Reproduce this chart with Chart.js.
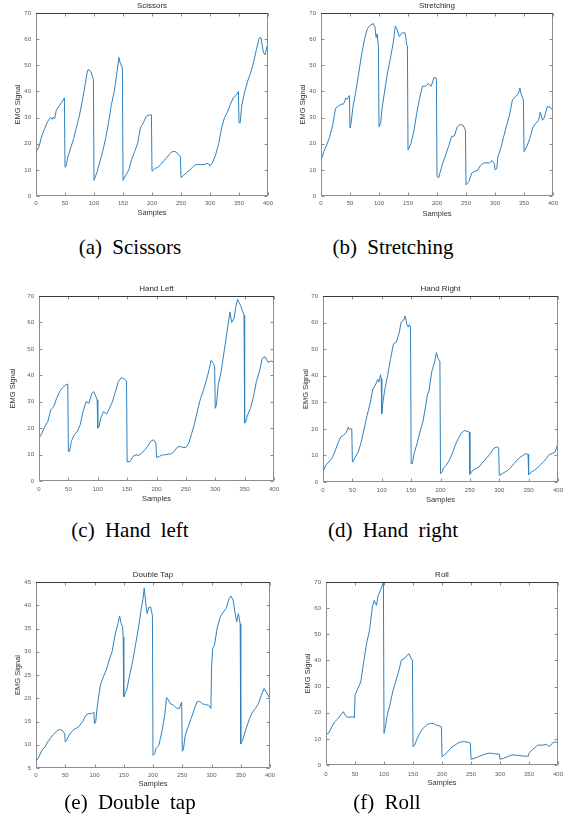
<!DOCTYPE html>
<html>
<head>
<meta charset="utf-8">
<script src="https://cdn.jsdelivr.net/npm/chart.js@4/dist/chart.umd.min.js"></script>
<style>
  html, body { margin: 0; padding: 0; background: #fff; }
  body { width: 571px; height: 831px; position: relative; overflow: hidden; }
  .panel { position: absolute; overflow: hidden; }
  .panel canvas { display: block; }
  .cap {
    position: absolute;
    font-family: "Liberation Serif", "Times New Roman", serif;
    font-size: 21px;
    word-spacing: 5px;
    color: #000;
    white-space: pre;
    transform: translate(-50%, -50%);
    line-height: 1;
  }
</style>
</head>
<body>

<div class="panel" style="left:0;top:0;width:285px;height:222px"><canvas id="p0" width="285" height="222"></canvas></div>
<div class="panel" style="left:285px;top:0;width:286px;height:222px"><canvas id="p1" width="286" height="222"></canvas></div>
<div class="panel" style="left:0;top:283px;width:280px;height:222px"><canvas id="p2" width="285" height="222"></canvas></div>
<div class="panel" style="left:285px;top:283px;width:286px;height:222px"><canvas id="p3" width="286" height="222"></canvas></div>
<div class="panel" style="left:0;top:569px;width:285px;height:222px"><canvas id="p4" width="285" height="222"></canvas></div>
<div class="panel" style="left:285px;top:569px;width:286px;height:222px"><canvas id="p5" width="286" height="222"></canvas></div>

<div class="cap" style="left:130px;top:247px">(a) Scissors</div>
<div class="cap" style="left:393px;top:247px">(b) Stretching</div>
<div class="cap" style="left:130px;top:530px">(c) Hand left</div>
<div class="cap" style="left:393px;top:530px">(d) Hand right</div>
<div class="cap" style="left:130px;top:802px">(e) Double tap</div>
<div class="cap" style="left:387px;top:802px">(f) Roll</div>

<script>
// EMG signal traces, [sample, amplitude]
const scissors = [
  [0,17],[5,18.7],[10,23],[15,25.8],[20,28.5],[25,30],[28,29.3],[30,30.2],[32,29.5],[35,32.8],[40,34.5],[45,36],[49,37.5],
  [50,11],[52,11.5],[55,15],[60,18.5],[65,22],[70,26.5],[75,31],[80,36.5],[85,43],[88,47],[90,48.5],[95,47.5],[99,44.5],
  [100,6],[105,9],[110,13],[115,17],[120,22],[125,28],[130,35],[135,40],[140,48],[143,53],[145,51],[149,49],
  [150,6],[155,8],[160,10],[165,14],[170,17],[175,20],[180,26],[185,28],[190,30.5],[195,31],[199,31],
  [200,9.5],[205,10.5],[210,11],[215,12],[220,13.5],[225,14.5],[230,16],[235,17],[240,17],[245,16],[249,15],
  [250,7],[255,8],[260,9],[265,10],[270,11],[275,12],[280,12],[285,12],[290,12],[295,12.5],[299,12],
  [300,11.5],[305,13],[310,16],[315,20],[320,26],[325,30],[330,32],[335,35],[340,37.5],[345,38.5],[349,40],
  [350,28],[352,28],[355,35],[360,40],[365,44],[370,47],[375,51],[380,56],[385,60.5],[388,60.5],[392,55],[395,54],[398,57],[400,58]
];

const stretching = [
  [0,13.6],[5,17],[10,19.6],[15,22.7],[20,27],[25,33.5],[30,34.4],[35,35.2],[38,35],[40,35.7],[43,37.5],[45,37],[49,38.4],
  [50,26],[52,28],[55,34],[60,40],[65,47],[70,54],[75,60],[80,64],[85,65.3],[90,66],[93,64.7],[95,60.6],[97,62],[99,57],
  [100,26.5],[103,28],[105,33],[110,40.5],[115,47.5],[120,53],[125,59.3],[128,65],[130,64.4],[135,61],[140,62.4],[145,62.4],[148,57.7],[149,57.5],
  [150,17.7],[155,20],[160,24.6],[165,31.6],[170,37.4],[175,42],[180,42],[185,43],[190,42],[195,45.4],[199,45],
  [200,7.5],[203,7],[205,8.8],[210,12.6],[215,15.8],[220,19],[225,22.7],[230,23],[235,26.5],[240,27.4],[245,27],[249,25.3],
  [250,4.3],[255,5.6],[260,8.8],[265,9.5],[270,9.8],[275,11.7],[280,12.6],[285,12.7],[290,12.6],[295,13.6],[299,12.3],
  [300,10],[303,10.4],[305,15],[310,18.3],[315,22.7],[320,27],[325,31],[330,36.7],[335,38],[340,39],[343,41.3],[345,39],[349,36.7],
  [350,17],[355,19],[360,22],[365,26],[370,27.8],[375,28.8],[378,32],[382,29],[385,30],[390,34.2],[395,34],[400,32.7]
];

const handLeft = [
  [0,16.2],[5,18.1],[10,20.6],[15,22.5],[20,26.9],[25,28.2],[30,31.3],[35,33.8],[40,35.3],[45,36.3],[49,36.7],
  [50,11.2],[52,11.2],[55,15],[60,17.5],[65,18.7],[70,21.2],[75,26.3],[80,30],[85,29.4],[90,33.2],[93,33.8],[97,31.9],[99,30.7],
  [100,20],[102,20.6],[105,23.8],[110,26.3],[115,25.3],[120,27.5],[125,30],[130,33.8],[135,37.6],[140,39.1],[145,38.6],[149,37.8],
  [150,7.2],[155,7.4],[160,9.3],[165,9.9],[170,9.7],[175,10.6],[180,11.8],[185,13.1],[190,15],[195,15.6],[199,14.3],
  [200,8.9],[205,9.3],[210,9.9],[215,9.9],[220,10.2],[225,10.2],[230,11.2],[235,12.7],[240,13.1],[245,12.7],[250,12.7],
  [255,14.3],[260,18.1],[265,21.9],[270,26.9],[275,31.3],[280,34.4],[285,38.2],[290,42.6],[293,45.7],[297,44.5],[299,43.2],
  [300,27.5],[302,28.8],[305,36.3],[310,41.3],[315,48.9],[320,56.4],[325,64],[328,60],[332,61.5],[335,65.9],[338,68.8],[340,67.7],[343,66.5],[346,64.6],[349,62.7],
  [350,21.9],[352,22.5],[355,25],[360,27.5],[365,31.9],[370,37.6],[375,41.3],[380,46.4],[385,47],[390,44.9],[395,45.4],[400,44.9]
];

const handRight = [
  [0,3.8],[5,6.5],[10,7.5],[15,8.8],[20,11.3],[25,14.4],[30,16.9],[35,17.6],[40,18.8],[43,20.7],[45,19.8],[49,20],
  [50,7.5],[52,8.2],[55,9.4],[60,11.3],[65,15],[70,20],[75,25],[80,29.5],[85,35],[90,36.9],[93,38.6],[95,37.6],[98,40.4],[99,38.9],
  [100,25.7],[102,30.1],[105,34.5],[110,40.1],[115,46.4],[120,52],[125,52.7],[130,56.5],[133,60.2],[137,60.8],[140,62.5],[143,59],[145,58.3],[147,59.2],[149,58.3],
  [150,6.9],[152,6.9],[155,10.7],[160,14.4],[165,18.8],[170,22.6],[175,28.9],[178,33.2],[180,33.9],[185,41.4],[190,45.2],[193,48.7],[196,46.4],[199,45.4],
  [200,3.1],[203,3.8],[205,5.3],[210,6.3],[215,8.2],[220,10.7],[225,13.8],[230,16.3],[235,18.2],[240,19.4],[245,19.1],[249,18.8],
  [250,2.9],[253,3.8],[255,4.4],[260,5],[265,5.6],[270,6.9],[275,8.2],[280,9.4],[285,10.7],[290,12.5],[295,13.2],[299,12.9],
  [300,2.5],[305,3.1],[310,3.8],[315,4.4],[320,5.6],[325,6.9],[330,8.2],[335,9.2],[340,10],[345,10.7],[349,10.4],
  [350,2.8],[355,3.8],[360,4.4],[365,5.3],[370,6.5],[375,7.5],[380,8.8],[385,10.4],[390,10.7],[395,11.3],[400,14.4]
];

const doubleTap = [
  [0,6.4],[5,7.4],[10,8.8],[15,9.5],[20,10.6],[25,11.5],[30,12.2],[35,12.9],[40,13.3],[45,13.1],[49,12.4],
  [50,10.6],[52,10.9],[55,11.7],[60,12.7],[65,13.3],[70,13.6],[75,14.2],[80,15],[85,16.3],[90,16.7],[95,16.7],[99,17],
  [100,14.5],[102,14.9],[105,18.5],[110,22.8],[115,24.6],[120,26],[125,28.2],[130,30],[135,33.5],[140,36],[143,37.7],[145,36.3],[148,35.4],[149,33.2],
  [150,20.3],[153,21.3],[155,21.7],[160,24.9],[165,27.8],[170,31.4],[175,35],[180,39.3],[183,41.4],[185,43.7],[188,40],[190,38.2],[193,39.6],[196,39.6],[199,37.8],
  [200,7.7],[203,8.1],[205,9.2],[210,9.9],[215,12.7],[220,16.3],[223,20.1],[225,19.9],[230,18.8],[235,18.5],[240,17.9],[245,17.8],[249,19.2],
  [250,8.6],[252,9],[255,12],[260,13.8],[265,15.6],[270,17.4],[275,19.2],[280,19.3],[285,18.8],[290,18.6],[295,18.5],[299,17.8],
  [300,26.4],[302,30.7],[305,31.4],[310,35.3],[315,37.5],[320,38.5],[325,39.3],[330,41.4],[333,42],[337,41.1],[340,38.5],[343,36.4],[346,38.2],[349,36],
  [350,10.2],[353,10.9],[355,11.7],[360,13.8],[365,15.6],[370,17],[375,17.8],[380,18.8],[385,20.6],[390,22.1],[395,21],[400,19.9]
];

const roll = [
  [0,11.7],[5,12.3],[10,14.6],[15,16.5],[20,17.6],[25,19.1],[30,20.4],[33,19.1],[35,18.5],[40,18.2],[45,18.5],[49,18.1],
  [50,26.7],[55,29.3],[60,31.8],[65,39.5],[70,46.5],[75,51.5],[80,60.5],[83,63],[87,61.1],[90,64.9],[95,67.5],[99,70],
  [100,12.1],[103,15.3],[105,18.5],[110,22.9],[115,28],[120,31.8],[125,35.6],[130,40.1],[135,40.7],[140,42],[143,42.6],[146,41],[149,40.1],
  [150,7],[153,7.6],[155,8.9],[160,11.5],[165,13.4],[170,14.6],[175,15.5],[180,15.9],[185,15.9],[190,15.3],[195,15],[199,14.6],
  [200,3.2],[205,4.1],[210,5.1],[215,6.4],[220,7.3],[225,8],[230,8.7],[235,8.9],[240,8.9],[245,8.7],[249,8.3],
  [250,2.2],[255,2.5],[260,2.9],[265,3.4],[270,3.8],[275,4.2],[280,4.5],[285,4.5],[290,4.3],[295,4.2],[299,4.1],
  [300,2.2],[305,2.5],[310,2.9],[315,3.4],[320,3.8],[325,3.8],[330,3.7],[335,3.6],[340,3.4],[345,3.4],[349,3.4],
  [350,4.5],[355,5.7],[360,6.6],[365,7.6],[370,7.6],[375,7.6],[380,7.9],[385,7],[390,8.3],[395,8.9],[400,8.3]
];

// Tick values
const sampleTicks = [0, 50, 100, 150, 200, 250, 300, 350, 400];
const emgTicks70 = [0, 10, 20, 30, 40, 50, 60, 70];
const emgTicks45 = [5, 10, 15, 20, 25, 30, 35, 40, 45];

const titles = ['Scissors', 'Stretching', 'Hand Left', 'Hand Right', 'Double Tap', 'Roll'];
const traces = [scissors, stretching, handLeft, handRight, doubleTap, roll];

// Per-panel geometry (canvas-local pixels)
const layouts = [
  { l: 36, r: 268, t: 13, b: 196, tickY: 203, labelY: 213, labelX: 18, yRange: [0, 70], yTicks: emgTicks70 },
  { l: 36, r: 268, t: 13, b: 196, tickY: 203, labelY: 214, labelX: 18, yRange: [0, 70], yTicks: emgTicks70 },
  { l: 39, r: 274, t: 13, b: 198, tickY: 206, labelY: 216, labelX: 12.5, yRange: [0, 70], yTicks: emgTicks70 },
  { l: 38, r: 273, t: 13, b: 199, tickY: 207, labelY: 217, labelX: 21, yRange: [0, 70], yTicks: emgTicks70 },
  { l: 36, r: 270, t: 13, b: 199, tickY: 206, labelY: 215, labelX: 18, yRange: [5, 45], yTicks: emgTicks45 },
  { l: 41, r: 273, t: 13, b: 196, tickY: 205, labelY: 214, labelX: 23, yRange: [0, 70], yTicks: emgTicks70 }
];

const FONT = '"Liberation Sans", Arial, Helvetica, sans-serif';
const TICK_SIZE = 6, LABEL_SIZE = 7.5, TITLE_SIZE = 8;

// Axes box with inward tick marks on all four sides
const axesBox = {
  id: 'axesBox',
  afterDraw(chart) {
    const { ctx, chartArea: a, scales: { x, y } } = chart;
    ctx.save();
    ctx.lineWidth = 1;
    ctx.strokeStyle = '#8c8c8c';
    const seg = (x1, y1, x2, y2) => { ctx.beginPath(); ctx.moveTo(x1, y1); ctx.lineTo(x2, y2); ctx.stroke(); };
    const L = Math.round(a.left) + 0.5, R = Math.round(a.right) - 0.5;
    const T = Math.round(a.top) + 0.5, B = Math.round(a.bottom) - 0.5;
    x.ticks.forEach(t => {
      const px = Math.round(x.getPixelForValue(t.value)) + 0.5;
      seg(px, B, px, B - 3);
      seg(px, T, px, T + 3);
    });
    y.ticks.forEach(t => {
      const py = Math.round(y.getPixelForValue(t.value)) + 0.5;
      seg(L, py, L + 3, py);
      seg(R, py, R - 3, py);
    });
    seg(L, T, L, B);
    seg(L, B, R, B);
    seg(R, T, R, B);
    ctx.strokeStyle = '#3a3a3a';
    seg(L - 0.5, T, R + 0.5, T);
    ctx.restore();
  }
};

// Panel heading centred over the axes box
const panelTitle = {
  id: 'panelTitle',
  afterDraw(chart, args, opts) {
    const { ctx, chartArea: a } = chart;
    ctx.save();
    ctx.font = TITLE_SIZE + 'px ' + FONT;
    ctx.fillStyle = '#2b2b2b';
    ctx.textAlign = 'center';
    ctx.textBaseline = 'middle';
    ctx.fillText(opts.text, (a.left + a.right) / 2, opts.y);
    ctx.restore();
  }
};

traces.forEach((trace, i) => {
  const g = layouts[i];
  const canvas = document.getElementById('p' + i);
  const W = canvas.width, H = canvas.height;
  new Chart(canvas, {
    type: 'line',
    data: {
      datasets: [{
        data: trace.map(([s, v]) => ({ x: s, y: v })),
        borderColor: '#2f80bd',
        borderWidth: 1,
        pointRadius: 0,
        tension: 0,
        fill: false
      }]
    },
    options: {
      responsive: false,
      animation: false,
      devicePixelRatio: 1,
      layout: { padding: { left: 0, right: W - g.r, top: g.t, bottom: 0 } },
      plugins: {
        legend: { display: false },
        tooltip: { enabled: false },
        panelTitle: { text: titles[i], y: 6 }
      },
      scales: {
        x: {
          type: 'linear',
          min: 0,
          max: 400,
          afterBuildTicks: s => { s.ticks = sampleTicks.map(v => ({ value: v })); },
          afterFit: s => { s.height = H - g.b; },
          grid: { display: false, drawTicks: false },
          border: { display: false },
          ticks: {
            autoSkip: false,
            maxRotation: 0,
            padding: g.tickY - g.b - TICK_SIZE * 0.6,
            color: '#5a5a5a',
            font: { family: FONT, size: TICK_SIZE }
          },
          title: {
            display: true,
            text: 'Samples',
            color: '#333',
            font: { family: FONT, size: LABEL_SIZE },
            padding: { top: 0, bottom: H - g.labelY - LABEL_SIZE * 0.6 }
          }
        },
        y: {
          type: 'linear',
          min: g.yRange[0],
          max: g.yRange[1],
          afterBuildTicks: s => { s.ticks = g.yTicks.map(v => ({ value: v })); },
          afterFit: s => { s.width = g.l; },
          grid: { display: false, drawTicks: false },
          border: { display: false },
          ticks: {
            padding: 5,
            color: '#5a5a5a',
            font: { family: FONT, size: TICK_SIZE }
          },
          title: {
            display: true,
            text: 'EMG Signal',
            color: '#333',
            font: { family: FONT, size: LABEL_SIZE },
            padding: { top: g.labelX - LABEL_SIZE * 0.6, bottom: 0 }
          }
        }
      }
    },
    plugins: [axesBox, panelTitle]
  });
});
</script>
</body>
</html>
